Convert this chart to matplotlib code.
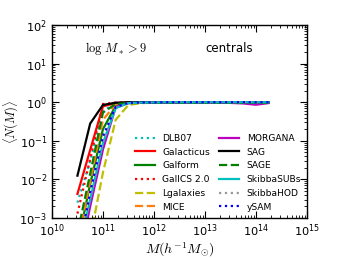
import matplotlib
matplotlib.use("Agg")
import matplotlib.pyplot as plt
import numpy as np

plt.rcParams['mathtext.fontset'] = 'cm'
plt.rcParams['axes.unicode_minus'] = False

# halo mass bins, log10 M [h^-1 Msun]
logm = [10.5, 10.75, 11.0, 11.25, 11.5, 11.75, 12.0, 12.25, 12.5, 12.75,
        13.0, 13.25, 13.5, 13.75, 14.0, 14.25]

tail = [0.99, 1.0, 1.0, 1.0, 1.0, 1.0, 1.0, 1.0, 1.0, 1.0]

dlb07 = [0.0025, 0.03, 0.6, 0.92, 0.97, 0.99] + tail
galacticus = [0.0042, 0.058, 0.78, 0.95, 0.98, 0.99] + tail
galform = [0.0002, 0.0076, 0.2, 0.8, 0.95, 0.98] + tail
galics = [0.0013, 0.034, 0.9, 0.98, 0.99, 1.0] + tail
lgalaxies = [0.00003, 0.0003, 0.015, 0.35, 0.85, 0.95, 0.97, 0.98, 0.98, 0.98,
             0.98, 0.98, 0.98, 0.98, 0.98, 0.98]
mice = [0.0002, 0.009, 0.35, 0.88, 0.97, 0.99] + tail
morgana = [0.00005, 0.002, 0.059, 0.75, 0.95, 0.97, 0.97, 0.97, 0.97, 0.97,
           0.97, 0.97, 0.96, 0.93, 0.86, 0.95]
sag = [0.0125, 0.28, 0.85, 0.97, 1.0, 1.0] + tail
sage = [0.0004, 0.014, 0.54, 0.9, 0.95, 0.96, 0.96, 0.96, 0.96, 0.96,
        0.96, 0.96, 0.96, 0.96, 0.96, 0.96]
skibba_subs = [0.0001, 0.003, 0.087, 0.7, 0.95, 0.98] + tail
skibba_hod = [0.0001, 0.0035, 0.1, 0.72, 0.95, 0.98] + tail
ysam = [0.0001, 0.0046, 0.13, 0.75, 0.96, 0.99] + tail

series = [
    ('DLB07', dlb07, 'c', ':'),
    ('Galacticus', galacticus, 'r', '-'),
    ('Galform', galform, 'g', '-'),
    ('GalICS 2.0', galics, 'r', ':'),
    ('Lgalaxies', lgalaxies, 'y', '--'),
    ('MICE', mice, '#ff7f0e', '--'),
    ('MORGANA', morgana, 'm', '-'),
    ('SAG', sag, 'k', '-'),
    ('SAGE', sage, 'g', '--'),
    ('SkibbaSUBs', skibba_subs, 'c', '-'),
    ('SkibbaHOD', skibba_hod, '0.6', ':'),
    ('ySAM', ysam, 'b', ':'),
]

fig = plt.figure(figsize=(3.44, 2.58), dpi=100)
ax = fig.add_axes([0.151, 0.155, 0.741, 0.748])

mass = 10 ** np.array(logm)
for name, vals, col, ls in series:
    ax.plot(mass, vals, color=col, ls=ls, lw=1.6, label=name)

ax.set_xscale('log')
ax.set_yscale('log')
ax.set_xlim(1e10, 1e15)
ax.set_ylim(1e-3, 1e2)
ax.tick_params(which='both', direction='in', top=True, right=True, labelsize=8.2)
ax.tick_params(which='major', length=5)
ax.tick_params(which='minor', length=2.5)
for s in ax.spines.values():
    s.set_linewidth(1.0)

ax.set_xlabel(r'$M(h^{-1}M_{\odot})$', fontsize=10, labelpad=1)
ax.set_ylabel(r'$\langle N(M)\rangle$', fontsize=9)
ax.yaxis.set_label_coords(-0.12, 0.5)

ax.text(0.13, 0.86, r'$\log\,M_* > 9$', transform=ax.transAxes, fontsize=9)
ax.text(0.60, 0.86, 'centrals', transform=ax.transAxes, fontsize=8.5)

ax.legend(loc='lower right', ncol=2, frameon=False, fontsize=6.6,
          handlelength=2.2, columnspacing=1.0, labelspacing=0.52,
          bbox_to_anchor=(1.01, -0.01))

fig.savefig('out.png', dpi=100)
